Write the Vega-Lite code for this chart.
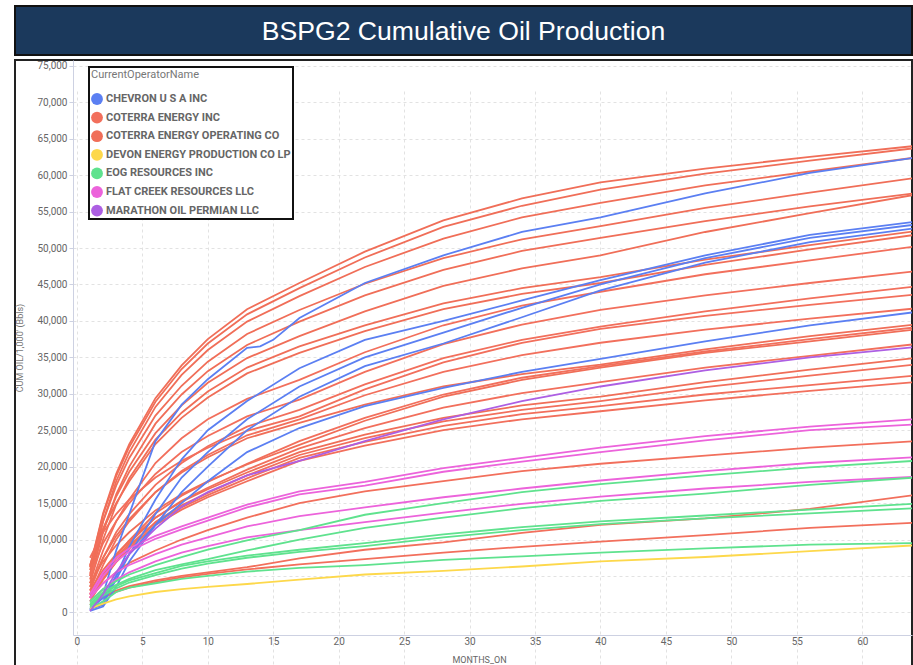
{
"$schema":"https://vega.github.io/schema/vega-lite/v6.json",
"background":"white",
"padding":{"left":14,"top":5,"right":0,"bottom":0},
"spacing":3,
"config":{"font":"Roboto"},
"datasets":{
"wells":[
{"w":"R1","op":"COTERRA ENERGY OPERATING CO"},{"w":"R2","op":"COTERRA ENERGY OPERATING CO"},{"w":"R3","op":"COTERRA ENERGY OPERATING CO"},{"w":"R4","op":"COTERRA ENERGY OPERATING CO"},{"w":"R5","op":"COTERRA ENERGY OPERATING CO"},{"w":"R6","op":"COTERRA ENERGY OPERATING CO"},{"w":"R7","op":"COTERRA ENERGY OPERATING CO"},{"w":"R8","op":"COTERRA ENERGY OPERATING CO"},
{"w":"R9","op":"COTERRA ENERGY INC"},{"w":"R10","op":"COTERRA ENERGY INC"},{"w":"R11","op":"COTERRA ENERGY INC"},{"w":"R12","op":"COTERRA ENERGY INC"},{"w":"R13","op":"COTERRA ENERGY INC"},{"w":"R14","op":"COTERRA ENERGY OPERATING CO"},{"w":"R15","op":"COTERRA ENERGY INC"},{"w":"R16","op":"COTERRA ENERGY OPERATING CO"},{"w":"R17","op":"COTERRA ENERGY INC"},{"w":"R18","op":"COTERRA ENERGY OPERATING CO"},{"w":"R19","op":"COTERRA ENERGY INC"},{"w":"R20","op":"COTERRA ENERGY INC"},{"w":"R21","op":"COTERRA ENERGY INC"},
{"w":"L1","op":"COTERRA ENERGY INC"},{"w":"L2","op":"COTERRA ENERGY INC"},{"w":"L3","op":"COTERRA ENERGY INC"},
{"w":"B1","op":"CHEVRON U S A INC"},{"w":"B2","op":"CHEVRON U S A INC"},{"w":"B3","op":"CHEVRON U S A INC"},{"w":"B4","op":"CHEVRON U S A INC"},{"w":"B5","op":"CHEVRON U S A INC"},
{"w":"P1","op":"FLAT CREEK RESOURCES LLC"},{"w":"P2","op":"FLAT CREEK RESOURCES LLC"},{"w":"P3","op":"FLAT CREEK RESOURCES LLC"},{"w":"P4","op":"FLAT CREEK RESOURCES LLC"},
{"w":"G1","op":"EOG RESOURCES INC"},{"w":"G2","op":"EOG RESOURCES INC"},{"w":"G3","op":"EOG RESOURCES INC"},{"w":"G4","op":"EOG RESOURCES INC"},{"w":"G5","op":"EOG RESOURCES INC"},
{"w":"Y1","op":"DEVON ENERGY PRODUCTION CO LP"},{"w":"M1","op":"MARATHON OIL PERMIAN LLC"}
],
"prod":[
{"w":"R1","m":1,"v":6300},{"w":"R1","m":2,"v":13600},{"w":"R1","m":3,"v":19000},{"w":"R1","m":4,"v":23100},{"w":"R1","m":6,"v":29400},{"w":"R1","m":8,"v":33900},{"w":"R1","m":10,"v":37500},{"w":"R1","m":13,"v":41600},{"w":"R1","m":17,"v":45200},{"w":"R1","m":22,"v":49500},{"w":"R1","m":28,"v":53800},{"w":"R1","m":34,"v":56800},{"w":"R1","m":40,"v":59000},{"w":"R1","m":48,"v":60900},{"w":"R1","m":56,"v":62500},{"w":"R1","m":64,"v":64000},
{"w":"R2","m":1,"v":6200},{"w":"R2","m":2,"v":13400},{"w":"R2","m":3,"v":18700},{"w":"R2","m":4,"v":22700},{"w":"R2","m":6,"v":28900},{"w":"R2","m":8,"v":33400},{"w":"R2","m":10,"v":36900},{"w":"R2","m":13,"v":40900},{"w":"R2","m":17,"v":44500},{"w":"R2","m":22,"v":48700},{"w":"R2","m":28,"v":52900},{"w":"R2","m":34,"v":55800},{"w":"R2","m":40,"v":58000},{"w":"R2","m":48,"v":60200},{"w":"R2","m":56,"v":62000},{"w":"R2","m":64,"v":63700},
{"w":"R3","m":1,"v":5000},{"w":"R3","m":2,"v":12500},{"w":"R3","m":3,"v":18000},{"w":"R3","m":4,"v":22000},{"w":"R3","m":6,"v":28200},{"w":"R3","m":8,"v":32600},{"w":"R3","m":10,"v":36000},{"w":"R3","m":13,"v":39900},{"w":"R3","m":17,"v":43400},{"w":"R3","m":22,"v":47400},{"w":"R3","m":28,"v":51300},{"w":"R3","m":34,"v":54200},{"w":"R3","m":40,"v":56200},{"w":"R3","m":48,"v":58600},{"w":"R3","m":56,"v":60500},{"w":"R3","m":64,"v":62400},
{"w":"R4","m":1,"v":5800},{"w":"R4","m":2,"v":12500},{"w":"R4","m":3,"v":17400},{"w":"R4","m":4,"v":21200},{"w":"R4","m":6,"v":27000},{"w":"R4","m":8,"v":31100},{"w":"R4","m":10,"v":34400},{"w":"R4","m":13,"v":38200},{"w":"R4","m":17,"v":41500},{"w":"R4","m":22,"v":45100},{"w":"R4","m":28,"v":48600},{"w":"R4","m":34,"v":51200},{"w":"R4","m":40,"v":53000},{"w":"R4","m":48,"v":55500},{"w":"R4","m":56,"v":57600},{"w":"R4","m":64,"v":59600},
{"w":"R5","m":1,"v":4500},{"w":"R5","m":2,"v":11000},{"w":"R5","m":3,"v":16200},{"w":"R5","m":4,"v":20000},{"w":"R5","m":6,"v":25900},{"w":"R5","m":8,"v":29900},{"w":"R5","m":10,"v":33100},{"w":"R5","m":13,"v":36700},{"w":"R5","m":17,"v":39900},{"w":"R5","m":22,"v":43500},{"w":"R5","m":28,"v":47000},{"w":"R5","m":34,"v":49600},{"w":"R5","m":40,"v":51400},{"w":"R5","m":48,"v":53700},{"w":"R5","m":56,"v":55700},{"w":"R5","m":64,"v":57500},
{"w":"R6","m":1,"v":5300},{"w":"R6","m":2,"v":11400},{"w":"R6","m":3,"v":15900},{"w":"R6","m":4,"v":19300},{"w":"R6","m":6,"v":24600},{"w":"R6","m":8,"v":28400},{"w":"R6","m":10,"v":31500},{"w":"R6","m":13,"v":34900},{"w":"R6","m":17,"v":37900},{"w":"R6","m":22,"v":41300},{"w":"R6","m":28,"v":44800},{"w":"R6","m":34,"v":47200},{"w":"R6","m":40,"v":49000},{"w":"R6","m":48,"v":52200},{"w":"R6","m":56,"v":54800},{"w":"R6","m":64,"v":57300},
{"w":"R7","m":1,"v":4000},{"w":"R7","m":2,"v":10000},{"w":"R7","m":3,"v":14800},{"w":"R7","m":4,"v":18400},{"w":"R7","m":6,"v":23700},{"w":"R7","m":8,"v":27400},{"w":"R7","m":10,"v":30300},{"w":"R7","m":13,"v":33600},{"w":"R7","m":17,"v":36500},{"w":"R7","m":22,"v":39400},{"w":"R7","m":28,"v":42400},{"w":"R7","m":34,"v":44500},{"w":"R7","m":40,"v":46000},{"w":"R7","m":48,"v":48400},{"w":"R7","m":56,"v":50400},{"w":"R7","m":64,"v":52300},
{"w":"R8","m":1,"v":6500},{"w":"R8","m":2,"v":11500},{"w":"R8","m":3,"v":15000},{"w":"R8","m":4,"v":18000},{"w":"R8","m":6,"v":23100},{"w":"R8","m":8,"v":26700},{"w":"R8","m":10,"v":29500},{"w":"R8","m":13,"v":32800},{"w":"R8","m":17,"v":35600},{"w":"R8","m":22,"v":38600},{"w":"R8","m":28,"v":41600},{"w":"R8","m":34,"v":43700},{"w":"R8","m":40,"v":45200},{"w":"R8","m":48,"v":47700},{"w":"R8","m":56,"v":49800},{"w":"R8","m":64,"v":51800},
{"w":"R9","m":1,"v":3500},{"w":"R9","m":2,"v":8500},{"w":"R9","m":3,"v":12500},{"w":"R9","m":4,"v":15500},{"w":"R9","m":6,"v":20500},{"w":"R9","m":8,"v":23900},{"w":"R9","m":10,"v":26500},{"w":"R9","m":13,"v":29300},{"w":"R9","m":17,"v":31900},{"w":"R9","m":22,"v":35700},{"w":"R9","m":28,"v":39400},{"w":"R9","m":34,"v":42100},{"w":"R9","m":40,"v":44000},{"w":"R9","m":48,"v":46400},{"w":"R9","m":56,"v":48300},{"w":"R9","m":64,"v":50200},
{"w":"R10","m":1,"v":5000},{"w":"R10","m":2,"v":9500},{"w":"R10","m":3,"v":12500},{"w":"R10","m":4,"v":15000},{"w":"R10","m":6,"v":19000},{"w":"R10","m":8,"v":22000},{"w":"R10","m":10,"v":24200},{"w":"R10","m":13,"v":26900},{"w":"R10","m":17,"v":29200},{"w":"R10","m":22,"v":33000},{"w":"R10","m":28,"v":36800},{"w":"R10","m":34,"v":39500},{"w":"R10","m":40,"v":41500},{"w":"R10","m":48,"v":43500},{"w":"R10","m":56,"v":45200},{"w":"R10","m":64,"v":46800},
{"w":"R11","m":1,"v":3000},{"w":"R11","m":2,"v":7500},{"w":"R11","m":3,"v":11000},{"w":"R11","m":4,"v":13500},{"w":"R11","m":6,"v":17500},{"w":"R11","m":8,"v":20500},{"w":"R11","m":10,"v":22800},{"w":"R11","m":13,"v":25500},{"w":"R11","m":17,"v":27800},{"w":"R11","m":22,"v":31300},{"w":"R11","m":28,"v":34900},{"w":"R11","m":34,"v":37400},{"w":"R11","m":40,"v":39200},{"w":"R11","m":48,"v":41300},{"w":"R11","m":56,"v":43100},{"w":"R11","m":64,"v":44700},
{"w":"R12","m":1,"v":7500},{"w":"R12","m":2,"v":11000},{"w":"R12","m":3,"v":13500},{"w":"R12","m":4,"v":15500},{"w":"R12","m":6,"v":18500},{"w":"R12","m":8,"v":20800},{"w":"R12","m":10,"v":22600},{"w":"R12","m":13,"v":24900},{"w":"R12","m":17,"v":26900},{"w":"R12","m":22,"v":30600},{"w":"R12","m":28,"v":34300},{"w":"R12","m":34,"v":37000},{"w":"R12","m":40,"v":38900},{"w":"R12","m":48,"v":40700},{"w":"R12","m":56,"v":42200},{"w":"R12","m":64,"v":43600},
{"w":"R13","m":1,"v":2500},{"w":"R13","m":2,"v":6500},{"w":"R13","m":3,"v":10000},{"w":"R13","m":4,"v":12500},{"w":"R13","m":6,"v":16500},{"w":"R13","m":8,"v":19400},{"w":"R13","m":10,"v":21600},{"w":"R13","m":13,"v":24300},{"w":"R13","m":17,"v":26500},{"w":"R13","m":22,"v":29800},{"w":"R13","m":28,"v":33000},{"w":"R13","m":34,"v":35300},{"w":"R13","m":40,"v":37000},{"w":"R13","m":48,"v":38800},{"w":"R13","m":56,"v":40300},{"w":"R13","m":64,"v":41700},
{"w":"R14","m":1,"v":3500},{"w":"R14","m":2,"v":7500},{"w":"R14","m":3,"v":10500},{"w":"R14","m":4,"v":12800},{"w":"R14","m":6,"v":16500},{"w":"R14","m":8,"v":19200},{"w":"R14","m":10,"v":21300},{"w":"R14","m":13,"v":23900},{"w":"R14","m":17,"v":26000},{"w":"R14","m":22,"v":28500},{"w":"R14","m":28,"v":31000},{"w":"R14","m":34,"v":32700},{"w":"R14","m":40,"v":34000},{"w":"R14","m":48,"v":36100},{"w":"R14","m":56,"v":37900},{"w":"R14","m":64,"v":39500},
{"w":"R15","m":1,"v":2400},{"w":"R15","m":2,"v":5200},{"w":"R15","m":3,"v":7800},{"w":"R15","m":4,"v":9900},{"w":"R15","m":6,"v":13600},{"w":"R15","m":8,"v":16000},{"w":"R15","m":10,"v":17900},{"w":"R15","m":13,"v":20400},{"w":"R15","m":17,"v":23500},{"w":"R15","m":22,"v":26700},{"w":"R15","m":28,"v":29900},{"w":"R15","m":34,"v":32200},{"w":"R15","m":40,"v":33800},{"w":"R15","m":48,"v":35800},{"w":"R15","m":56,"v":37500},{"w":"R15","m":64,"v":39100},
{"w":"R16","m":1,"v":4000},{"w":"R16","m":2,"v":7000},{"w":"R16","m":3,"v":9200},{"w":"R16","m":4,"v":11000},{"w":"R16","m":6,"v":14000},{"w":"R16","m":8,"v":16200},{"w":"R16","m":10,"v":18000},{"w":"R16","m":13,"v":20300},{"w":"R16","m":17,"v":23000},{"w":"R16","m":22,"v":26300},{"w":"R16","m":28,"v":29600},{"w":"R16","m":34,"v":31900},{"w":"R16","m":40,"v":33600},{"w":"R16","m":48,"v":35600},{"w":"R16","m":56,"v":37200},{"w":"R16","m":64,"v":38800},
{"w":"R17","m":1,"v":2000},{"w":"R17","m":2,"v":5000},{"w":"R17","m":3,"v":7500},{"w":"R17","m":4,"v":9500},{"w":"R17","m":6,"v":13000},{"w":"R17","m":8,"v":15300},{"w":"R17","m":10,"v":17100},{"w":"R17","m":13,"v":19600},{"w":"R17","m":17,"v":22500},{"w":"R17","m":22,"v":25300},{"w":"R17","m":28,"v":28100},{"w":"R17","m":34,"v":30100},{"w":"R17","m":40,"v":31600},{"w":"R17","m":48,"v":33600},{"w":"R17","m":56,"v":35200},{"w":"R17","m":64,"v":36800},
{"w":"R18","m":1,"v":3000},{"w":"R18","m":2,"v":5800},{"w":"R18","m":3,"v":8000},{"w":"R18","m":4,"v":9800},{"w":"R18","m":6,"v":13000},{"w":"R18","m":8,"v":15200},{"w":"R18","m":10,"v":16900},{"w":"R18","m":13,"v":19200},{"w":"R18","m":17,"v":22000},{"w":"R18","m":22,"v":24400},{"w":"R18","m":28,"v":26700},{"w":"R18","m":34,"v":28400},{"w":"R18","m":40,"v":29600},{"w":"R18","m":48,"v":31600},{"w":"R18","m":56,"v":33300},{"w":"R18","m":64,"v":34900},
{"w":"R19","m":1,"v":1500},{"w":"R19","m":2,"v":4500},{"w":"R19","m":3,"v":7000},{"w":"R19","m":4,"v":9000},{"w":"R19","m":6,"v":12400},{"w":"R19","m":8,"v":14700},{"w":"R19","m":10,"v":16400},{"w":"R19","m":13,"v":18800},{"w":"R19","m":17,"v":21600},{"w":"R19","m":22,"v":23900},{"w":"R19","m":28,"v":26200},{"w":"R19","m":34,"v":27800},{"w":"R19","m":40,"v":29000},{"w":"R19","m":48,"v":30900},{"w":"R19","m":56,"v":32500},{"w":"R19","m":64,"v":34000},
{"w":"R20","m":1,"v":2500},{"w":"R20","m":2,"v":5200},{"w":"R20","m":3,"v":7400},{"w":"R20","m":4,"v":9200},{"w":"R20","m":6,"v":12300},{"w":"R20","m":8,"v":14400},{"w":"R20","m":10,"v":16100},{"w":"R20","m":13,"v":18400},{"w":"R20","m":17,"v":21200},{"w":"R20","m":22,"v":23400},{"w":"R20","m":28,"v":25600},{"w":"R20","m":34,"v":27200},{"w":"R20","m":40,"v":28300},{"w":"R20","m":48,"v":29900},{"w":"R20","m":56,"v":31200},{"w":"R20","m":64,"v":32500},
{"w":"R21","m":1,"v":2000},{"w":"R21","m":2,"v":4600},{"w":"R21","m":3,"v":6900},{"w":"R21","m":4,"v":8700},{"w":"R21","m":6,"v":12000},{"w":"R21","m":8,"v":14100},{"w":"R21","m":10,"v":15800},{"w":"R21","m":13,"v":18000},{"w":"R21","m":17,"v":20800},{"w":"R21","m":22,"v":22900},{"w":"R21","m":28,"v":25000},{"w":"R21","m":34,"v":26500},{"w":"R21","m":40,"v":27600},{"w":"R21","m":48,"v":29100},{"w":"R21","m":56,"v":30400},{"w":"R21","m":64,"v":31600},
{"w":"L1","m":1,"v":2000},{"w":"L1","m":2,"v":4000},{"w":"L1","m":3,"v":5500},{"w":"L1","m":4,"v":6800},{"w":"L1","m":6,"v":8500},{"w":"L1","m":8,"v":10000},{"w":"L1","m":10,"v":11300},{"w":"L1","m":13,"v":13000},{"w":"L1","m":17,"v":15000},{"w":"L1","m":22,"v":16600},{"w":"L1","m":28,"v":18000},{"w":"L1","m":34,"v":19400},{"w":"L1","m":40,"v":20400},{"w":"L1","m":48,"v":21500},{"w":"L1","m":56,"v":22600},{"w":"L1","m":64,"v":23500},
{"w":"L2","m":1,"v":1000},{"w":"L2","m":2,"v":2200},{"w":"L2","m":3,"v":3000},{"w":"L2","m":4,"v":3600},{"w":"L2","m":6,"v":4400},{"w":"L2","m":8,"v":5000},{"w":"L2","m":10,"v":5500},{"w":"L2","m":13,"v":6200},{"w":"L2","m":17,"v":7400},{"w":"L2","m":22,"v":8600},{"w":"L2","m":28,"v":9600},{"w":"L2","m":34,"v":10900},{"w":"L2","m":40,"v":12000},{"w":"L2","m":48,"v":12900},{"w":"L2","m":56,"v":14200},{"w":"L2","m":64,"v":16100},
{"w":"L3","m":1,"v":1000},{"w":"L3","m":2,"v":2000},{"w":"L3","m":3,"v":2800},{"w":"L3","m":4,"v":3400},{"w":"L3","m":6,"v":4200},{"w":"L3","m":8,"v":4800},{"w":"L3","m":10,"v":5300},{"w":"L3","m":13,"v":5900},{"w":"L3","m":17,"v":6600},{"w":"L3","m":22,"v":7300},{"w":"L3","m":28,"v":8200},{"w":"L3","m":34,"v":9000},{"w":"L3","m":40,"v":9700},{"w":"L3","m":48,"v":10600},{"w":"L3","m":56,"v":11600},{"w":"L3","m":64,"v":12300},
{"w":"B1","m":1,"v":300},{"w":"B1","m":2,"v":2500},{"w":"B1","m":3,"v":8500},{"w":"B1","m":4,"v":13500},{"w":"B1","m":6,"v":23500},{"w":"B1","m":8,"v":28500},{"w":"B1","m":10,"v":32000},{"w":"B1","m":13,"v":36300},{"w":"B1","m":14,"v":36500},{"w":"B1","m":15,"v":37400},{"w":"B1","m":17,"v":40400},{"w":"B1","m":22,"v":45200},{"w":"B1","m":28,"v":49000},{"w":"B1","m":34,"v":52200},{"w":"B1","m":40,"v":54200},{"w":"B1","m":48,"v":57500},{"w":"B1","m":56,"v":60300},{"w":"B1","m":64,"v":62400},
{"w":"B2","m":1,"v":500},{"w":"B2","m":2,"v":1000},{"w":"B2","m":3,"v":5000},{"w":"B2","m":4,"v":9000},{"w":"B2","m":6,"v":15500},{"w":"B2","m":8,"v":21000},{"w":"B2","m":10,"v":25000},{"w":"B2","m":13,"v":29000},{"w":"B2","m":17,"v":33500},{"w":"B2","m":22,"v":37400},{"w":"B2","m":28,"v":40000},{"w":"B2","m":34,"v":42800},{"w":"B2","m":40,"v":45600},{"w":"B2","m":48,"v":49000},{"w":"B2","m":56,"v":51800},{"w":"B2","m":64,"v":53600},
{"w":"B5","m":1,"v":400},{"w":"B5","m":2,"v":1500},{"w":"B5","m":3,"v":4500},{"w":"B5","m":4,"v":8000},{"w":"B5","m":6,"v":13500},{"w":"B5","m":8,"v":18500},{"w":"B5","m":10,"v":22000},{"w":"B5","m":13,"v":26500},{"w":"B5","m":17,"v":31000},{"w":"B5","m":22,"v":35000},{"w":"B5","m":28,"v":38400},{"w":"B5","m":34,"v":41800},{"w":"B5","m":40,"v":45000},{"w":"B5","m":48,"v":48600},{"w":"B5","m":56,"v":51400},{"w":"B5","m":64,"v":53200},
{"w":"B3","m":1,"v":200},{"w":"B3","m":2,"v":800},{"w":"B3","m":3,"v":3500},{"w":"B3","m":4,"v":7000},{"w":"B3","m":6,"v":12000},{"w":"B3","m":8,"v":16500},{"w":"B3","m":10,"v":20000},{"w":"B3","m":13,"v":25000},{"w":"B3","m":17,"v":29600},{"w":"B3","m":22,"v":33800},{"w":"B3","m":28,"v":36900},{"w":"B3","m":34,"v":40500},{"w":"B3","m":40,"v":44200},{"w":"B3","m":48,"v":48000},{"w":"B3","m":56,"v":50800},{"w":"B3","m":64,"v":52700},
{"w":"B4","m":1,"v":500},{"w":"B4","m":2,"v":2000},{"w":"B4","m":3,"v":5000},{"w":"B4","m":4,"v":8000},{"w":"B4","m":6,"v":12000},{"w":"B4","m":8,"v":15000},{"w":"B4","m":10,"v":18000},{"w":"B4","m":13,"v":22000},{"w":"B4","m":17,"v":25300},{"w":"B4","m":22,"v":28300},{"w":"B4","m":28,"v":30800},{"w":"B4","m":34,"v":33000},{"w":"B4","m":40,"v":34800},{"w":"B4","m":48,"v":37200},{"w":"B4","m":56,"v":39400},{"w":"B4","m":64,"v":41200},
{"w":"P1","m":1,"v":2500},{"w":"P1","m":2,"v":5500},{"w":"P1","m":3,"v":7500},{"w":"P1","m":4,"v":8800},{"w":"P1","m":6,"v":10500},{"w":"P1","m":8,"v":11800},{"w":"P1","m":10,"v":13000},{"w":"P1","m":13,"v":14800},{"w":"P1","m":17,"v":16600},{"w":"P1","m":22,"v":17900},{"w":"P1","m":28,"v":19800},{"w":"P1","m":34,"v":21200},{"w":"P1","m":40,"v":22600},{"w":"P1","m":48,"v":24200},{"w":"P1","m":56,"v":25500},{"w":"P1","m":64,"v":26500},
{"w":"P2","m":1,"v":2000},{"w":"P2","m":2,"v":5000},{"w":"P2","m":3,"v":7000},{"w":"P2","m":4,"v":8400},{"w":"P2","m":6,"v":10100},{"w":"P2","m":8,"v":11400},{"w":"P2","m":10,"v":12600},{"w":"P2","m":13,"v":14400},{"w":"P2","m":17,"v":16200},{"w":"P2","m":22,"v":17400},{"w":"P2","m":28,"v":19300},{"w":"P2","m":34,"v":20700},{"w":"P2","m":40,"v":22000},{"w":"P2","m":48,"v":23600},{"w":"P2","m":56,"v":25000},{"w":"P2","m":64,"v":25800},
{"w":"P3","m":1,"v":2000},{"w":"P3","m":2,"v":4000},{"w":"P3","m":3,"v":5500},{"w":"P3","m":4,"v":6500},{"w":"P3","m":6,"v":8000},{"w":"P3","m":8,"v":9300},{"w":"P3","m":10,"v":10300},{"w":"P3","m":13,"v":11800},{"w":"P3","m":17,"v":13200},{"w":"P3","m":22,"v":14400},{"w":"P3","m":28,"v":15800},{"w":"P3","m":34,"v":17000},{"w":"P3","m":40,"v":18100},{"w":"P3","m":48,"v":19400},{"w":"P3","m":56,"v":20500},{"w":"P3","m":64,"v":21300},
{"w":"P4","m":1,"v":1500},{"w":"P4","m":2,"v":3200},{"w":"P4","m":3,"v":4500},{"w":"P4","m":4,"v":5500},{"w":"P4","m":6,"v":7000},{"w":"P4","m":8,"v":8200},{"w":"P4","m":10,"v":9100},{"w":"P4","m":13,"v":10300},{"w":"P4","m":17,"v":11300},{"w":"P4","m":22,"v":12400},{"w":"P4","m":28,"v":13700},{"w":"P4","m":34,"v":14900},{"w":"P4","m":40,"v":15900},{"w":"P4","m":48,"v":17000},{"w":"P4","m":56,"v":17900},{"w":"P4","m":64,"v":18600},
{"w":"G1","m":1,"v":1500},{"w":"G1","m":2,"v":3200},{"w":"G1","m":3,"v":4300},{"w":"G1","m":4,"v":5200},{"w":"G1","m":6,"v":6500},{"w":"G1","m":8,"v":7600},{"w":"G1","m":10,"v":8600},{"w":"G1","m":13,"v":9900},{"w":"G1","m":17,"v":11300},{"w":"G1","m":22,"v":13400},{"w":"G1","m":28,"v":15000},{"w":"G1","m":34,"v":16500},{"w":"G1","m":40,"v":17600},{"w":"G1","m":48,"v":18800},{"w":"G1","m":56,"v":19900},{"w":"G1","m":64,"v":20800},
{"w":"G2","m":1,"v":1200},{"w":"G2","m":2,"v":2800},{"w":"G2","m":3,"v":3800},{"w":"G2","m":4,"v":4600},{"w":"G2","m":6,"v":5800},{"w":"G2","m":8,"v":6600},{"w":"G2","m":10,"v":7300},{"w":"G2","m":13,"v":8500},{"w":"G2","m":17,"v":10000},{"w":"G2","m":22,"v":11600},{"w":"G2","m":28,"v":13000},{"w":"G2","m":34,"v":14300},{"w":"G2","m":40,"v":15300},{"w":"G2","m":48,"v":16300},{"w":"G2","m":56,"v":17500},{"w":"G2","m":64,"v":18500},
{"w":"G3","m":1,"v":1000},{"w":"G3","m":2,"v":2600},{"w":"G3","m":3,"v":3600},{"w":"G3","m":4,"v":4400},{"w":"G3","m":6,"v":5400},{"w":"G3","m":8,"v":6400},{"w":"G3","m":10,"v":7000},{"w":"G3","m":13,"v":7800},{"w":"G3","m":17,"v":8600},{"w":"G3","m":22,"v":9500},{"w":"G3","m":28,"v":10700},{"w":"G3","m":34,"v":11700},{"w":"G3","m":40,"v":12500},{"w":"G3","m":48,"v":13300},{"w":"G3","m":56,"v":14100},{"w":"G3","m":64,"v":14900},
{"w":"G4","m":1,"v":800},{"w":"G4","m":2,"v":2300},{"w":"G4","m":3,"v":3300},{"w":"G4","m":4,"v":4100},{"w":"G4","m":6,"v":5100},{"w":"G4","m":8,"v":6000},{"w":"G4","m":10,"v":6700},{"w":"G4","m":13,"v":7500},{"w":"G4","m":17,"v":8300},{"w":"G4","m":22,"v":9100},{"w":"G4","m":28,"v":10300},{"w":"G4","m":34,"v":11300},{"w":"G4","m":40,"v":12100},{"w":"G4","m":48,"v":12900},{"w":"G4","m":56,"v":13600},{"w":"G4","m":64,"v":14300},
{"w":"G5","m":1,"v":500},{"w":"G5","m":2,"v":1500},{"w":"G5","m":3,"v":2800},{"w":"G5","m":4,"v":3400},{"w":"G5","m":6,"v":4000},{"w":"G5","m":8,"v":4600},{"w":"G5","m":10,"v":5000},{"w":"G5","m":13,"v":5600},{"w":"G5","m":17,"v":6100},{"w":"G5","m":22,"v":6500},{"w":"G5","m":28,"v":7200},{"w":"G5","m":34,"v":7700},{"w":"G5","m":40,"v":8200},{"w":"G5","m":48,"v":8800},{"w":"G5","m":56,"v":9300},{"w":"G5","m":64,"v":9500},
{"w":"Y1","m":1,"v":500},{"w":"Y1","m":2,"v":1200},{"w":"Y1","m":3,"v":1800},{"w":"Y1","m":4,"v":2200},{"w":"Y1","m":6,"v":2800},{"w":"Y1","m":8,"v":3200},{"w":"Y1","m":10,"v":3500},{"w":"Y1","m":13,"v":3900},{"w":"Y1","m":17,"v":4500},{"w":"Y1","m":22,"v":5200},{"w":"Y1","m":28,"v":5700},{"w":"Y1","m":34,"v":6300},{"w":"Y1","m":40,"v":7000},{"w":"Y1","m":48,"v":7600},{"w":"Y1","m":56,"v":8400},{"w":"Y1","m":64,"v":9200},
{"w":"M1","m":1,"v":200},{"w":"M1","m":2,"v":2500},{"w":"M1","m":3,"v":5500},{"w":"M1","m":4,"v":8000},{"w":"M1","m":6,"v":11500},{"w":"M1","m":8,"v":14500},{"w":"M1","m":10,"v":16500},{"w":"M1","m":13,"v":18800},{"w":"M1","m":17,"v":20800},{"w":"M1","m":22,"v":23500},{"w":"M1","m":28,"v":26500},{"w":"M1","m":34,"v":29000},{"w":"M1","m":40,"v":31000},{"w":"M1","m":48,"v":33200},{"w":"M1","m":56,"v":35000},{"w":"M1","m":64,"v":36400}
]
},
"vconcat":[
{
"width":897,"height":49,
"view":{"fill":"#1b395c","stroke":"#111111","strokeWidth":2},
"data":{"values":[{"title":"BSPG2 Cumulative Oil Production"}]},
"mark":{"type":"text","font":"Liberation Sans","fontSize":26.6,"color":"#ffffff","baseline":"middle","align":"center","dy":1},
"encoding":{"text":{"field":"title","type":"nominal"}}
},
{
"width":897,"height":606,
"view":{"fill":"#ffffff","stroke":"#222222","strokeWidth":2},
"data":{"name":"prod"},
"transform":[{"lookup":"w","from":{"data":{"name":"wells"},"key":"w","fields":["op"]}}],
"mark":{"type":"line","strokeWidth":1.8,"clip":true},
"encoding":{
"x":{"field":"m","type":"quantitative",
"scale":{"domain":[-0.3,63.8],"range":[58,897],"nice":false,"zero":false},
"axis":{"title":"MONTHS_ON","values":[0,5,10,15,20,25,30,35,40,45,50,55,60],"offset":-31,"grid":true,"gridColor":"#e2e2e2","gridDash":[3,3],"ticks":false,"tickSize":0,"domainColor":"#cdd1e2","labelFont":"Roboto","labelFontSize":10,"labelColor":"#666666","labelPadding":1,"titleFont":"Roboto","titleFontSize":9,"titleFontWeight":"normal","titleColor":"#666666","titlePadding":9,"titleX":464}},
"y":{"field":"v","type":"quantitative",
"scale":{"domain":[-3100,75800],"range":[575,0],"nice":false,"zero":false},
"axis":{"title":"CUM OIL/1,000' (Bbls)","values":[0,5000,10000,15000,20000,25000,30000,35000,40000,45000,50000,55000,60000,65000,70000,75000],"format":",.0f","offset":-58,"grid":true,"gridColor":"#e2e2e2","gridDash":[3,3],"ticks":true,"tickSize":4,"tickColor":"#cdd1e2","domainColor":"#cdd1e2","labelFont":"Roboto","labelFontSize":10,"labelColor":"#666666","labelPadding":2,"titleFont":"Roboto","titleFontSize":9,"titleFontWeight":"normal","titleColor":"#777777","titlePadding":12}},
"color":{"field":"op","type":"nominal",
"scale":{"domain":["CHEVRON U S A INC","COTERRA ENERGY INC","COTERRA ENERGY OPERATING CO","DEVON ENERGY PRODUCTION CO LP","EOG RESOURCES INC","FLAT CREEK RESOURCES LLC","MARATHON OIL PERMIAN LLC"],"range":["#5b7ff2","#f26f5c","#f06e58","#fdd84b","#5fe28e","#ec63db","#ad5fe3"]},
"legend":{"orient":"none","legendX":74,"legendY":61,"title":"CurrentOperatorName","titleFont":"Roboto","titleFontSize":11,"titleFontWeight":"normal","titleColor":"#777777","titlePadding":13,"labelFont":"Roboto","labelFontSize":11,"labelFontWeight":"bold","labelColor":"#666666","labelLimit":190,"symbolType":"circle","symbolSize":140,"symbolStrokeWidth":0,"symbolOpacity":1,"rowPadding":6.6,"labelOffset":3,"padding":2,"fillColor":"#ffffff","strokeColor":"#111111",
"encode":{"symbols":{"update":{"fill":{"scale":"color","field":"value"},"fillOpacity":{"value":1},"strokeWidth":{"value":0}}},"legend":{"update":{"strokeWidth":{"value":2}}}}}},
"detail":{"field":"w","type":"nominal"}
}
}
]
}
